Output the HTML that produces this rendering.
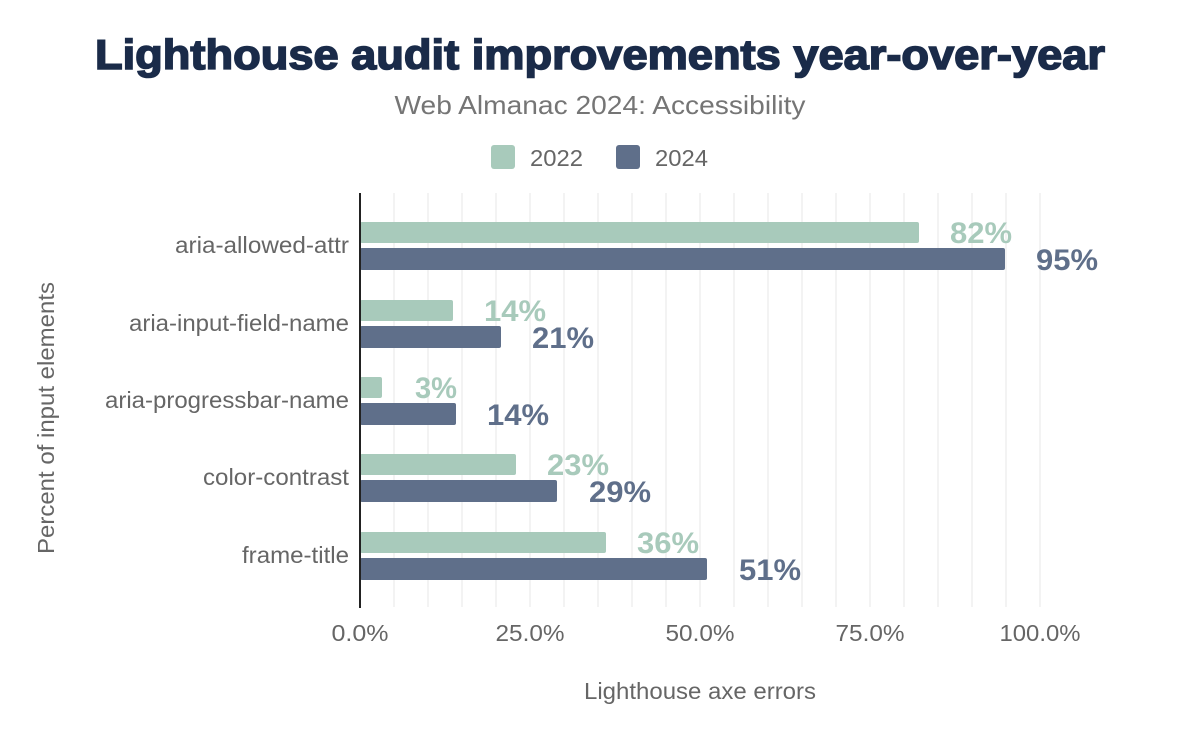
<!DOCTYPE html>
<html><head><meta charset="utf-8"><style>
html,body{margin:0;padding:0;background:#fff;}
svg{display:block;font-family:"Liberation Sans",Arial,sans-serif;}
</style></head><body>
<svg width="1200" height="742" viewBox="0 0 1200 742">
<rect width="1200" height="742" fill="#fff"/>
<text x="600" y="69" text-anchor="middle" font-size="42" font-weight="bold" fill="#1a2b49" stroke="#1a2b49" stroke-width="1.6" textLength="1010" lengthAdjust="spacingAndGlyphs">Lighthouse audit improvements year-over-year</text>
<text x="600" y="114" text-anchor="middle" font-size="26" fill="#757575" textLength="411" lengthAdjust="spacingAndGlyphs">Web Almanac 2024: Accessibility</text>
<rect x="491" y="145" width="24" height="24" rx="3" fill="#a8cabb"/>
<text x="530" y="166" font-size="23" fill="#666" textLength="53" lengthAdjust="spacingAndGlyphs">2022</text>
<rect x="616" y="145" width="24" height="24" rx="3" fill="#5f6f8a"/>
<text x="655" y="166" font-size="23" fill="#666" textLength="53" lengthAdjust="spacingAndGlyphs">2024</text>
<g stroke="#efefef" stroke-width="1.5">
<line x1="394" y1="193" x2="394" y2="607"/><line x1="428" y1="193" x2="428" y2="607"/><line x1="462" y1="193" x2="462" y2="607"/><line x1="496" y1="193" x2="496" y2="607"/><line x1="530" y1="193" x2="530" y2="607"/><line x1="564" y1="193" x2="564" y2="607"/><line x1="598" y1="193" x2="598" y2="607"/><line x1="632" y1="193" x2="632" y2="607"/><line x1="666" y1="193" x2="666" y2="607"/><line x1="700" y1="193" x2="700" y2="607"/><line x1="734" y1="193" x2="734" y2="607"/><line x1="768" y1="193" x2="768" y2="607"/><line x1="802" y1="193" x2="802" y2="607"/><line x1="836" y1="193" x2="836" y2="607"/><line x1="870" y1="193" x2="870" y2="607"/><line x1="904" y1="193" x2="904" y2="607"/><line x1="938" y1="193" x2="938" y2="607"/><line x1="972" y1="193" x2="972" y2="607"/><line x1="1006" y1="193" x2="1006" y2="607"/><line x1="1040" y1="193" x2="1040" y2="607"/>
</g>
<g fill="#a8cabb">
<rect x="360" y="222" width="559" height="21" rx="2"/>
<rect x="360" y="300" width="93" height="21" rx="2"/>
<rect x="360" y="377" width="22" height="21" rx="2"/>
<rect x="360" y="454" width="156" height="21" rx="2"/>
<rect x="360" y="532" width="246" height="21" rx="2"/>
</g>
<g fill="#5f6f8a">
<rect x="360" y="248" width="645" height="22" rx="2"/>
<rect x="360" y="326" width="141" height="22" rx="2"/>
<rect x="360" y="403" width="96" height="22" rx="2"/>
<rect x="360" y="480" width="197" height="22" rx="2"/>
<rect x="360" y="558" width="347" height="22" rx="2"/>
</g>
<line x1="360" y1="193" x2="360" y2="608" stroke="#222" stroke-width="2"/>
<g font-size="30" font-weight="bold" fill="#a8cabb" text-anchor="middle">
<text x="981" y="243" textLength="62" lengthAdjust="spacingAndGlyphs">82%</text><text x="515" y="321" textLength="62" lengthAdjust="spacingAndGlyphs">14%</text><text x="436" y="398" textLength="42" lengthAdjust="spacingAndGlyphs">3%</text><text x="578" y="475" textLength="62" lengthAdjust="spacingAndGlyphs">23%</text><text x="668" y="553" textLength="62" lengthAdjust="spacingAndGlyphs">36%</text>
</g>
<g font-size="30" font-weight="bold" fill="#5f6f8a" text-anchor="middle">
<text x="1067" y="270" textLength="62" lengthAdjust="spacingAndGlyphs">95%</text><text x="563" y="348" textLength="62" lengthAdjust="spacingAndGlyphs">21%</text><text x="518" y="425" textLength="62" lengthAdjust="spacingAndGlyphs">14%</text><text x="620" y="502" textLength="62" lengthAdjust="spacingAndGlyphs">29%</text><text x="770" y="580" textLength="62" lengthAdjust="spacingAndGlyphs">51%</text>
</g>
<g font-size="23" fill="#666" text-anchor="end">
<text x="349" y="253" textLength="174" lengthAdjust="spacingAndGlyphs">aria-allowed-attr</text>
<text x="349" y="331" textLength="220" lengthAdjust="spacingAndGlyphs">aria-input-field-name</text>
<text x="349" y="408" textLength="244" lengthAdjust="spacingAndGlyphs">aria-progressbar-name</text>
<text x="349" y="485" textLength="146" lengthAdjust="spacingAndGlyphs">color-contrast</text>
<text x="349" y="563" textLength="107" lengthAdjust="spacingAndGlyphs">frame-title</text>
</g>
<g font-size="23" fill="#666" text-anchor="middle">
<text x="360" y="641" textLength="57" lengthAdjust="spacingAndGlyphs">0.0%</text><text x="530" y="641" textLength="69" lengthAdjust="spacingAndGlyphs">25.0%</text><text x="700" y="641" textLength="69" lengthAdjust="spacingAndGlyphs">50.0%</text><text x="870" y="641" textLength="69" lengthAdjust="spacingAndGlyphs">75.0%</text><text x="1040" y="641" textLength="81" lengthAdjust="spacingAndGlyphs">100.0%</text>
</g>
<text x="700" y="699" text-anchor="middle" font-size="23" fill="#666" textLength="232" lengthAdjust="spacingAndGlyphs">Lighthouse axe errors</text>
<text transform="translate(54,418) rotate(-90)" text-anchor="middle" font-size="23" fill="#666" textLength="272" lengthAdjust="spacingAndGlyphs">Percent of input elements</text>
</svg>
</body></html>
